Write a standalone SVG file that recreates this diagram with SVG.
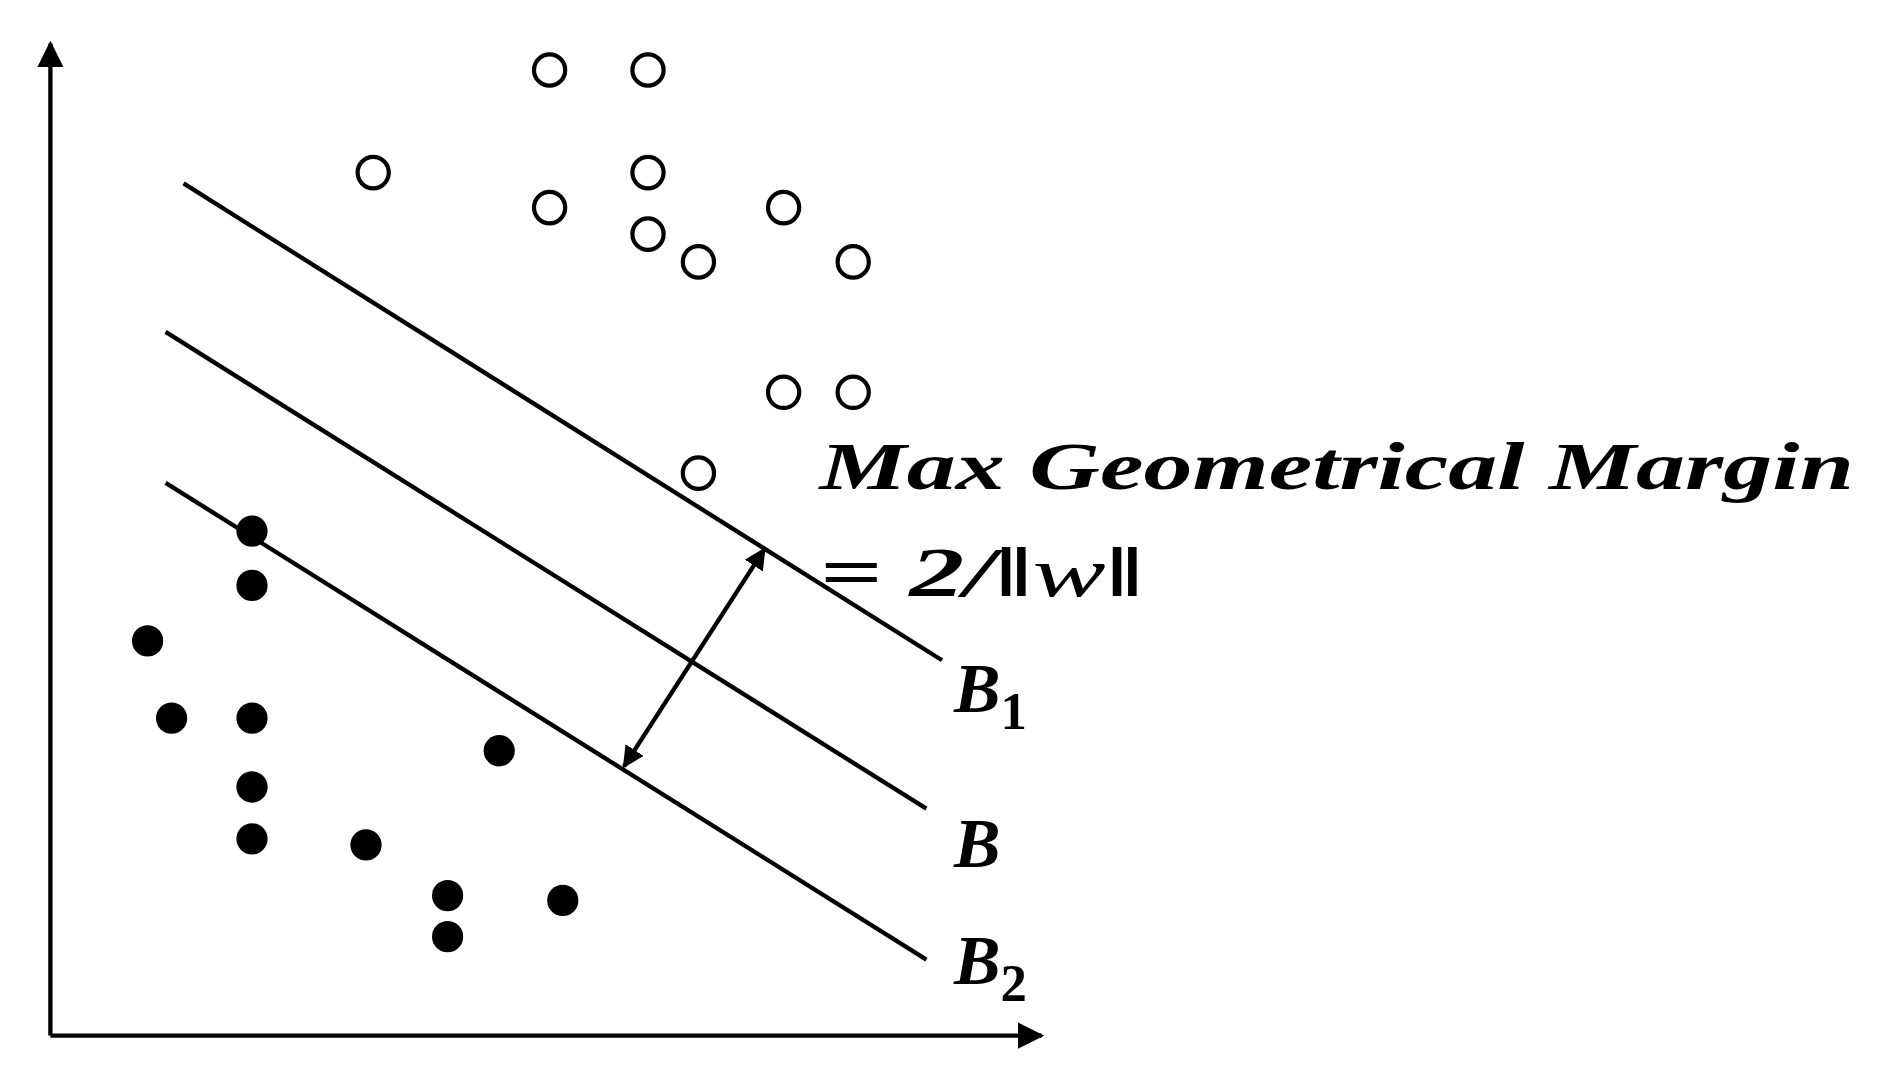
<svg xmlns="http://www.w3.org/2000/svg" width="1888" height="1073" viewBox="0 0 1888 1073">
<style>
.o{fill:#fff;stroke:#000;stroke-width:3.5}
.f{fill:#000}
.l{stroke:#000;stroke-width:3.6;fill:none}
.t{font-family:"Liberation Serif","DejaVu Serif",serif;font-weight:bold;font-style:italic;fill:#000}
</style>
<defs>
<marker id="ax" viewBox="0 0 10 10" refX="9" refY="5" markerWidth="22" markerHeight="22" orient="auto" markerUnits="userSpaceOnUse"><path d="M0,0 L10,5 L0,10 z"/></marker>
<marker id="da" viewBox="0 0 10 10" refX="9" refY="5" markerWidth="18" markerHeight="18" orient="auto-start-reverse" markerUnits="userSpaceOnUse"><path d="M0,0 L10,5 L0,10 z"/></marker>
</defs>
<g transform="scale(1.2,1.207)">
<g id="connectors">
<line class="l" x1="42" y1="858" x2="42" y2="36" marker-end="url(#ax)"/>
<line class="l" x1="42" y1="858" x2="868" y2="858" marker-end="url(#ax)"/>
<line class="l" x1="153" y1="152" x2="785" y2="547"/>
<line class="l" x1="138" y1="275" x2="772" y2="670"/>
<line class="l" x1="138" y1="400" x2="772" y2="795"/>
<line class="l" x1="520" y1="635" x2="637" y2="455" stroke-width="3" marker-start="url(#da)" marker-end="url(#da)"/>
</g>
<g id="open">
<circle class="o" cx="458" cy="58" r="13"/><circle class="o" cx="540" cy="58" r="13"/>
<circle class="o" cx="311" cy="143" r="13"/><circle class="o" cx="540" cy="143" r="13"/>
<circle class="o" cx="458" cy="172" r="13"/><circle class="o" cx="653" cy="172" r="13"/>
<circle class="o" cx="540" cy="194" r="13"/><circle class="o" cx="582" cy="217" r="13"/>
<circle class="o" cx="711" cy="217" r="13"/><circle class="o" cx="653" cy="325" r="13"/>
<circle class="o" cx="711" cy="325" r="13"/><circle class="o" cx="582" cy="392" r="13"/>
</g>
<g id="filled">
<circle class="f" cx="210" cy="440" r="13"/><circle class="f" cx="210" cy="485" r="13"/>
<circle class="f" cx="123" cy="531" r="13"/><circle class="f" cx="143" cy="595" r="13"/>
<circle class="f" cx="210" cy="595" r="13"/><circle class="f" cx="416" cy="622" r="13"/>
<circle class="f" cx="210" cy="652" r="13"/><circle class="f" cx="210" cy="695" r="13"/>
<circle class="f" cx="305" cy="700" r="13"/><circle class="f" cx="373" cy="742" r="13"/>
<circle class="f" cx="469" cy="746" r="13"/><circle class="f" cx="373" cy="776" r="13"/>
</g>
<g id="labels">
<text class="t" x="683" y="405" font-size="56" textLength="862" lengthAdjust="spacingAndGlyphs">Max Geometrical Margin</text>
<text class="t" x="683" y="494" font-size="58" font-style="normal" textLength="270" lengthAdjust="spacingAndGlyphs">= 2/‖<tspan font-style="italic" font-weight="normal">w</tspan>‖</text>
<text class="t" x="795" y="590" font-size="58">B<tspan font-style="normal" font-size="44" dy="14">1</tspan></text>
<text class="t" x="795" y="718" font-size="58">B</text>
<text class="t" x="795" y="815" font-size="58">B<tspan font-style="normal" font-size="44" dy="14">2</tspan></text>
</g>
</g>
</svg>
